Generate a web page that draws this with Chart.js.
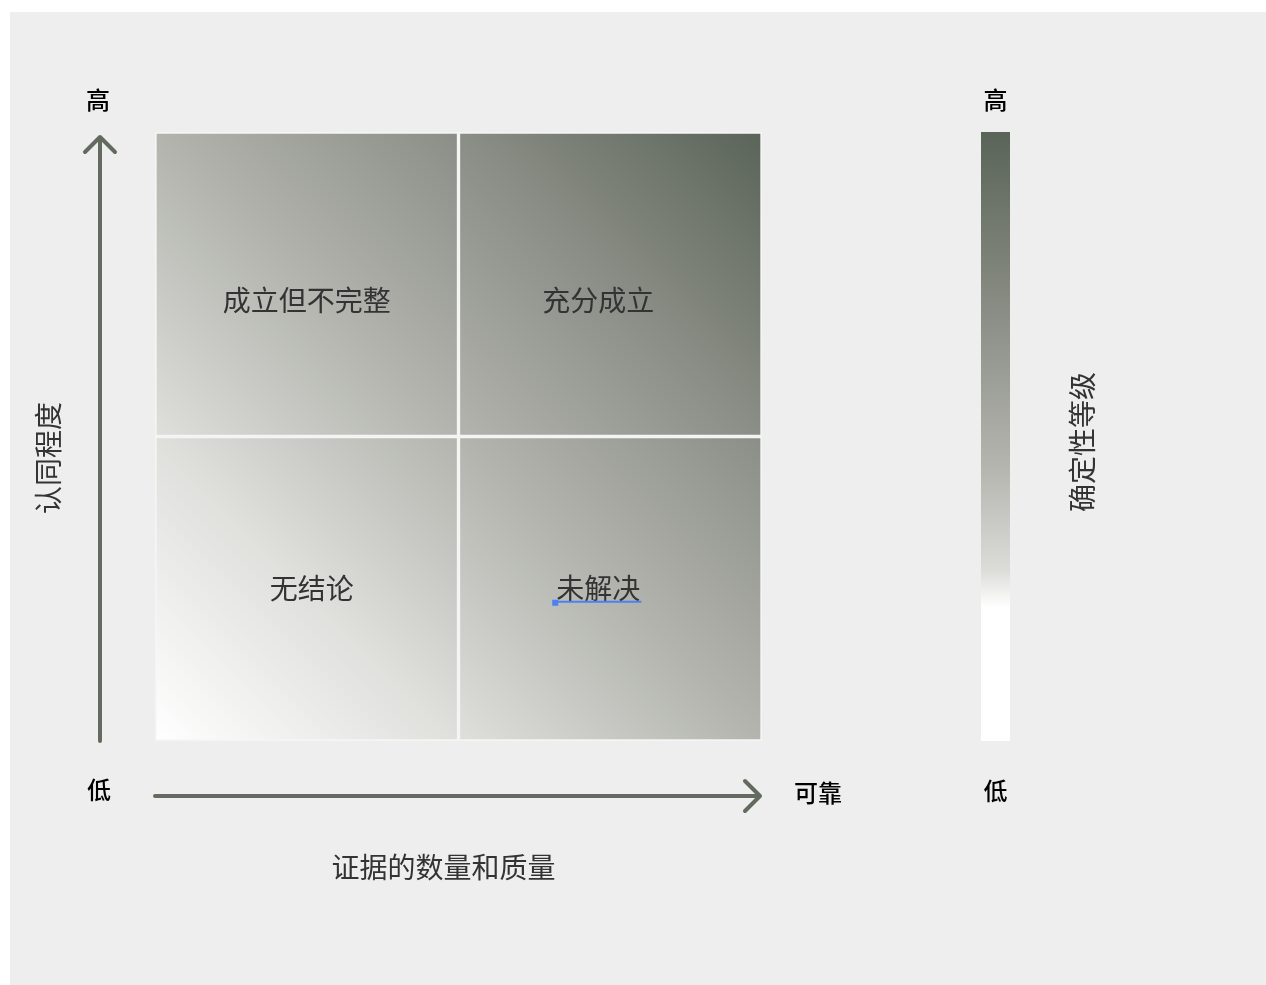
<!DOCTYPE html>
<html>
<head>
<meta charset="utf-8">
<script src="https://cdn.jsdelivr.net/npm/chart.js@4"></script>
<style>
    html, body { margin: 0; padding: 0; background: #ffffff; }
    #wrap { width: 1266px; height: 985px; }
</style>
</head>
<body>
<div id="wrap"><canvas id="chart-uncertainty"></canvas></div>
<script>
// evidence (x) and agreement (y) levels
const evidenceLevels = ['有限', '可靠'];
const agreementLevels = ['低', '高'];
const lowAgreementRow = [1, 1];
const highAgreementRow = [1, 1];
const quadrantLabels = [['无结论', '未解决'], ['成立但不完整', '充分成立']];
const xAxisTitle = '证据的数量和质量';
const yAxisTitle = '认同程度';
const scaleTitle = '确定性等级';
const scaleEnds = ['低', '高'];

const FONT = '"Noto Sans CJK SC", "Noto Sans", sans-serif';
const ARROW = '#636b60';

function cellGradient(context) {
    const area = context.chart.chartArea;
    if (!area) return '#cccccc';
    const g = context.chart.ctx.createLinearGradient(area.left, area.bottom, area.right, area.top);
    g.addColorStop(0, '#ffffff');
    g.addColorStop(0.25, '#dfdfdc');
    g.addColorStop(0.5, '#b2b4ad');
    g.addColorStop(0.75, '#8b8e86');
    g.addColorStop(1, '#5a6458');
    return g;
}

const decorations = {
    id: 'decorations',
    beforeDraw(chart) {
        const ctx = chart.ctx;
        ctx.save();
        ctx.fillStyle = '#ffffff';
        ctx.fillRect(0, 0, chart.width, chart.height);
        ctx.fillStyle = '#edeeed';
        ctx.fillRect(10, 12, chart.width - 10, chart.height - 12);
        ctx.restore();
    },
    afterDatasetsDraw(chart) {
        const ctx = chart.ctx;
        const area = chart.chartArea;
        const x = chart.scales.x;
        const y = chart.scales.y;
        ctx.save();

        // quadrant labels
        ctx.font = '28px ' + FONT;
        ctx.fillStyle = '#333333';
        ctx.textAlign = 'center';
        ctx.textBaseline = 'middle';
        quadrantLabels.forEach((row, r) => {
            row.forEach((label, c) => {
                const px = x.getPixelForValue(c) + (c === 1 ? -12 : (r === 0 ? 5 : 0));
                const py = y.getPixelForValue(r + 0.5) + (r === 1 ? 16 : 0);
                ctx.fillText(label, px, py);
            });
        });

        // cursor mark under 未解决
        const mx = x.getPixelForValue(1) - 12;
        const my = y.getPixelForValue(0.5) + 13;
        ctx.fillStyle = '#4d7ff5';
        ctx.fillRect(mx - 45, my - 1, 88, 2);
        ctx.fillRect(mx - 46, my - 2, 6, 6);

        // arrows
        ctx.strokeStyle = ARROW;
        ctx.lineWidth = 4;
        ctx.lineCap = 'round';
        ctx.lineJoin = 'round';
        const ax = 100;
        ctx.beginPath();
        ctx.moveTo(ax, area.bottom);
        ctx.lineTo(ax, area.top + 5);
        ctx.moveTo(ax - 15, area.top + 20);
        ctx.lineTo(ax, area.top + 5);
        ctx.lineTo(ax + 15, area.top + 20);
        ctx.stroke();
        const ay = area.bottom + 55;
        ctx.beginPath();
        ctx.moveTo(area.left, ay);
        ctx.lineTo(area.right - 2, ay);
        ctx.moveTo(area.right - 17, ay - 15);
        ctx.lineTo(area.right - 2, ay);
        ctx.lineTo(area.right - 17, ay + 15);
        ctx.stroke();

        // axis end labels
        ctx.fillStyle = '#000000';
        ctx.font = '500 24px ' + FONT;
        ctx.fillText(agreementLevels[1], ax - 2, area.top - 32);
        ctx.fillText(agreementLevels[0], ax - 1, area.bottom + 49);
        ctx.fillText(evidenceLevels[1], area.right + 56, area.bottom + 52);

        // axis titles
        ctx.fillStyle = '#333333';
        ctx.font = '28px ' + FONT;
        ctx.fillText(xAxisTitle, (area.left + area.right) / 2 - 15, area.bottom + 126);
        ctx.save();
        ctx.translate(48, 458);
        ctx.rotate(-Math.PI / 2);
        ctx.fillText(yAxisTitle, 0, 0);
        ctx.restore();

        // certainty scale bar
        const bx = 981, bw = 29;
        const g = ctx.createLinearGradient(0, area.top, 0, area.bottom);
        g.addColorStop(0, '#5a6458');
        g.addColorStop(0.3, '#8b8e86');
        g.addColorStop(0.55, '#b3b5ae');
        g.addColorStop(0.72, '#dcdcd9');
        g.addColorStop(0.78, '#ffffff');
        g.addColorStop(1, '#ffffff');
        ctx.fillStyle = g;
        ctx.fillRect(bx, area.top, bw, area.bottom - area.top);
        ctx.fillStyle = '#000000';
        ctx.font = '500 24px ' + FONT;
        ctx.fillText(scaleEnds[1], bx + bw / 2, area.top - 32);
        ctx.fillText(scaleEnds[0], bx + bw / 2, area.bottom + 50);
        ctx.fillStyle = '#333333';
        ctx.font = '28px ' + FONT;
        ctx.save();
        ctx.translate(1082, 442);
        ctx.rotate(-Math.PI / 2);
        ctx.fillText(scaleTitle, 0, 0);
        ctx.restore();

        ctx.restore();
    }
};

new Chart(document.getElementById('chart-uncertainty'), {
    type: 'bar',
    data: {
        labels: evidenceLevels,
        datasets: [{
            label: agreementLevels[0],
            data: lowAgreementRow,
            backgroundColor: cellGradient,
            borderColor: '#f4f5f4',
            borderWidth: 2,
            borderSkipped: false,
            barPercentage: 1,
            categoryPercentage: 1
        }, {
            label: agreementLevels[1],
            data: highAgreementRow,
            backgroundColor: cellGradient,
            borderColor: '#f4f5f4',
            borderWidth: 2,
            borderSkipped: false,
            barPercentage: 1,
            categoryPercentage: 1
        }]
    },
    options: {
        responsive: true,
        maintainAspectRatio: false,
        animation: false,
        layout: {
            padding: { left: 155, top: 132, right: 504, bottom: 244 }
        },
        plugins: {
            legend: { display: false },
            tooltip: { enabled: false }
        },
        scales: {
            x: { stacked: true, display: false },
            y: { stacked: true, display: false, min: 0, max: 2 }
        }
    },
    plugins: [decorations]
});
</script>
</body>
</html>
